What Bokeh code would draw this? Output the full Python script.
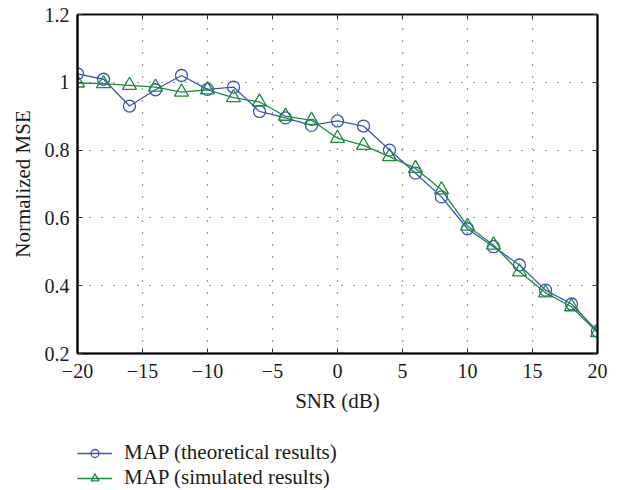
from bokeh.plotting import figure
from bokeh.models import Legend, LegendItem, LinearAxis, FixedTicker, Range1d
from bokeh.layouts import column
from bokeh.embed import file_html
from bokeh.resources import INLINE

snr = [-20, -18, -16, -14, -12, -10, -8, -6, -4, -2, 0, 2, 4, 6, 8, 10, 12, 14, 16, 18, 20]
theoretical = [1.025, 1.009, 0.930, 0.978, 1.020, 0.979, 0.986, 0.914, 0.895, 0.873, 0.886, 0.871,
               0.800, 0.732, 0.662, 0.568, 0.515, 0.461, 0.387, 0.346, 0.266]
simulated = [0.998, 0.996, 0.991, 0.986, 0.971, 0.978, 0.955, 0.942, 0.900, 0.888, 0.835, 0.814,
             0.781, 0.746, 0.683, 0.576, 0.520, 0.441, 0.379, 0.338, 0.262]
x_ticks = [-20, -15, -10, -5, 0, 5, 10, 15, 20]
y_ticks = [0.2, 0.4, 0.6, 0.8, 1.0, 1.2]
x_labels = {t: (str(t).replace("-", "\u2212")) for t in x_ticks}
y_labels = {0.2: "0.2", 0.4: "0.4", 0.6: "0.6", 0.8: "0.8", 1.0: "1", 1.2: "1.2"}
names = ["MAP (theoretical results)", "MAP (simulated results)"]

BLUE = "#3a55b4"
GREEN = "#1e8a3e"
FONT = "Liberation Serif"
TXT = "#1a1a1a"

p = figure(width=624, height=427, output_backend="svg", toolbar_location=None,
           x_range=Range1d(-20, 20), y_range=Range1d(0.2, 1.2),
           min_border_left=77, min_border_right=27, min_border_top=14, min_border_bottom=74)
p.outline_line_color = "black"
p.outline_line_width = 1.5

for ax in (p.xaxis[0], p.yaxis[0]):
    ax.major_label_text_font = FONT
    ax.major_label_text_font_size = "20px"
    ax.major_label_text_color = TXT
    ax.axis_label_text_font = FONT
    ax.axis_label_text_font_size = "21px"
    ax.axis_label_text_font_style = "normal"
    ax.axis_label_text_color = TXT
    ax.axis_line_width = 2.2
    ax.axis_line_color = "black"
    ax.major_tick_in = 5
    ax.major_tick_out = 0
    ax.minor_tick_line_color = None
    ax.major_tick_line_color = "#333333"

p.xaxis[0].ticker = FixedTicker(ticks=x_ticks)
p.yaxis[0].ticker = FixedTicker(ticks=y_ticks)
p.xaxis[0].major_label_overrides = x_labels
p.yaxis[0].major_label_overrides = y_labels
p.xaxis[0].axis_label = "SNR (dB)"
p.yaxis[0].axis_label = "Normalized MSE"
p.xaxis[0].major_label_standoff = 10
p.yaxis[0].major_label_standoff = 8
p.xaxis[0].axis_label_standoff = 8
p.yaxis[0].axis_label_standoff = 7

top = LinearAxis(ticker=FixedTicker(ticks=x_ticks), major_label_text_font_size="0px",
                 major_tick_in=5, major_tick_out=0, minor_tick_line_color=None,
                 axis_line_color="black", axis_line_width=1.5, major_tick_line_color="#333333",
                 major_label_standoff=0)
right = LinearAxis(ticker=FixedTicker(ticks=y_ticks), major_label_text_font_size="0px",
                   major_tick_in=5, major_tick_out=0, minor_tick_line_color=None,
                   axis_line_color="black", axis_line_width=2, major_tick_line_color="#333333",
                   major_label_standoff=0)
top.major_label_text_color = None
right.major_label_text_color = None
p.add_layout(top, "above")
p.add_layout(right, "right")

for g in (p.xgrid[0], p.ygrid[0]):
    g.grid_line_color = "#333333"
    g.grid_line_dash = "1 11"
    g.grid_line_width = 1.2
p.xgrid[0].ticker = FixedTicker(ticks=x_ticks)
p.ygrid[0].ticker = FixedTicker(ticks=y_ticks)

p.line(snr, theoretical, line_color=BLUE, line_width=1.3)
p.scatter(snr, theoretical, marker="circle", size=12, fill_color=None,
          line_color=BLUE, line_width=1.3)
p.line(snr, simulated, line_color=GREEN, line_width=1.3)
p.scatter(snr, simulated, marker="triangle", size=14, fill_color=None,
          line_color=GREEN, line_width=1.3)

# legend strip below the chart (its series lie outside its ranges, so only the legend shows)
q = figure(width=624, height=63, output_backend="svg", toolbar_location=None,
           x_axis_type=None, y_axis_type=None, x_range=Range1d(-20, 20), y_range=Range1d(10, 11),
           min_border_left=0, min_border_right=0, min_border_top=0, min_border_bottom=0)
q.outline_line_color = None
q.xgrid.visible = False
q.ygrid.visible = False
ql1 = q.line(snr, theoretical, line_color=BLUE, line_width=1.3)
qs1 = q.scatter(snr, theoretical, marker="circle", size=12, fill_color=None, line_color=BLUE, line_width=1.3)
ql2 = q.line(snr, simulated, line_color=GREEN, line_width=1.3)
qs2 = q.scatter(snr, simulated, marker="triangle", size=14, fill_color=None, line_color=GREEN, line_width=1.3)

legend = Legend(items=[LegendItem(label=names[0], renderers=[ql1, qs1]),
                       LegendItem(label=names[1], renderers=[ql2, qs2])],
                location=(0, 0), orientation="vertical",
                label_text_font=FONT, label_text_font_size="21px", label_text_color=TXT,
                background_fill_alpha=0, border_line_color=None,
                glyph_width=35, glyph_height=20, label_height=20, spacing=-1,
                padding=0, margin=0, label_standoff=12)
q.add_layout(legend, "center")

open("out.html", "w").write(file_html(column(p, q, spacing=0), INLINE))
